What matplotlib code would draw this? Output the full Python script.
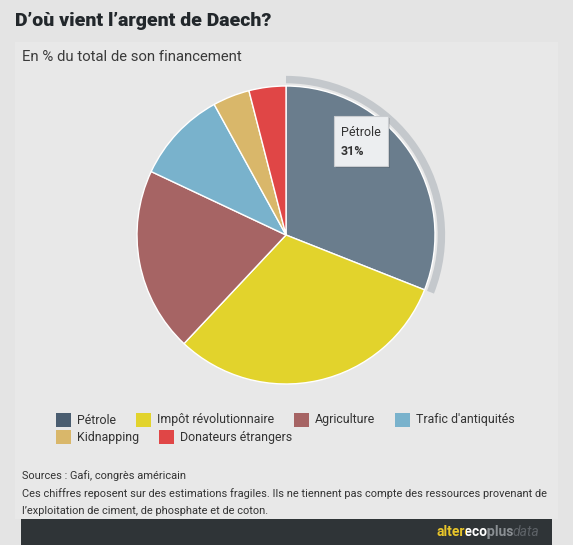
import matplotlib
matplotlib.use("Agg")
import matplotlib.pyplot as plt
from matplotlib.patches import Wedge, Rectangle, FancyBboxPatch

labels = ["Pétrole", "Impôt révolutionnaire", "Agriculture", "Trafic d'antiquités",
          "Kidnapping", "Donateurs étrangers"]
values = [31, 31, 20, 10, 4, 4]
colors = ["#6a7d8d", "#e2d32c", "#a66464", "#79b2cc", "#d9b76a", "#e04646"]
legend_colors = ["#4a5d70", "#e2d32c", "#a66464", "#79b2cc", "#d9b76a", "#e04646"]

title = "D\u2019où vient l\u2019argent de Daech?"
subtitle = "En % du total de son financement"
source_lines = [
    "Sources : Gafi, congrès américain",
    "Ces chiffres reposent sur des estimations fragiles. Ils ne tiennent pas compte des ressources provenant de",
    "l\u2019exploitation de ciment, de phosphate et de coton.",
]

W, H = 573, 545
fig = plt.figure(figsize=(W / 100, H / 100), dpi=100)
fig.patch.set_facecolor("#e4e4e4")

def fx(px):
    return px / W

def fy(py):
    return 1 - py / H

# inner panel
fig.patches.append(Rectangle((fx(15), fy(519)), fx(558) - fx(15), fy(42) - fy(519),
                             transform=fig.transFigure, facecolor="#e8e8e8", edgecolor="none", zorder=0))

# bottom bar
fig.patches.append(Rectangle((fx(21), fy(545)), fx(552) - fx(21), fy(519) - fy(545),
                             transform=fig.transFigure, facecolor="#2f3437", edgecolor="none", zorder=1))

fig.text(fx(15), fy(21), title, fontsize=14.0, fontweight="black", family="Roboto",
         color="#22272b", va="center", ha="left")
fig.text(fx(22), fy(57), subtitle, fontsize=10.7, family="Roboto", color="#3a3a3a",
         va="center", ha="left")

# pie
cx, cy, R = 286, 235, 149
half = 168
ax = fig.add_axes([fx(cx - half), fy(cy + half), 2 * half / W, 2 * half / H])
ax.set_zorder(3)
wedges, _ = ax.pie(values, colors=colors, startangle=90, counterclock=False, radius=1,
                   wedgeprops=dict(edgecolor="white", linewidth=1.0))
ax.set_xlim(-half / R, half / R)
ax.set_ylim(-half / R, half / R)
ax.set_aspect("equal")
ax.axis("off")
ax.patch.set_visible(False)
# hover halo on first slice
w0 = wedges[0]
ax.add_patch(Wedge((0, 0), 1.068, w0.theta1, w0.theta2, width=0.05,
                   facecolor="#c4c8cc", edgecolor="none", zorder=0))

# tooltip
tb = FancyBboxPatch((fx(334), fy(166)), fx(388) - fx(334), fy(116) - fy(166),
                    boxstyle="square,pad=0", transform=fig.transFigure,
                    facecolor="#eceef0", edgecolor="#c9ccd0", linewidth=0.8, zorder=5)
sh = FancyBboxPatch((fx(336), fy(168)), fx(388) - fx(334), fy(116) - fy(166),
                    boxstyle="square,pad=0", transform=fig.transFigure,
                    facecolor="#000000", alpha=0.12, edgecolor="none", zorder=4)
fig.patches.extend([sh, tb])
fig.text(fx(341), fy(133), labels[0], fontsize=9, family="Roboto", color="#333333",
         va="center", ha="left", zorder=6)
fig.text(fx(341), fy(151), f"{values[0]}%", fontsize=9, family="Roboto", fontweight="bold",
         color="#333333", va="center", ha="left", zorder=6)

# legend (flow layout)
renderer = fig.canvas.get_renderer()
x0, xmax = 56, 545
x, row_y = x0, 420
for lab, col in zip(labels, legend_colors):
    t = fig.text(0, 0, lab, fontsize=8.9, family="Roboto", color="#333333",
                 va="center", ha="left")
    tw = t.get_window_extent(renderer).width
    if x + 21 + tw > xmax:
        x = x0
        row_y += 17
    t.set_position((fx(x + 21), fy(row_y)))
    fig.patches.append(Rectangle((fx(x), fy(row_y + 7)), fx(15), 14 / H,
                                 transform=fig.transFigure, facecolor=col, edgecolor="none"))
    x += 21 + tw + 20

# sources
for i, line in enumerate(source_lines):
    fig.text(fx(22), fy(476 + i * 17.5), line, fontsize=7.9, family="Roboto", color="#333333",
             va="center", ha="left")

# logo: bold part drawn as one string, coloured by clipping
bold_parts = [("alter", "#e8c52a"), ("eco", "#ffffff"), ("plus", "#8a8f93")]
tail = ("data", "#5d6267")
logo_fs = 10
bold_full = "".join(p[0] for p in bold_parts)
probe = fig.text(0, 0, bold_full, fontsize=logo_fs, family="Roboto", fontweight="bold")
bold_w = probe.get_window_extent(renderer).width
bounds = []
acc = ""
for txt, _ in bold_parts:
    if acc:
        probe.set_text(acc)
        bounds.append(probe.get_window_extent(renderer).width + 0.6)
    else:
        bounds.append(-5)
    acc += txt
bounds.append(bold_w + 5)
probe.set_text(tail[0])
probe.set_style("italic")
probe.set_fontweight("normal")
tail_w = probe.get_window_extent(renderer).width
probe.remove()
start = 539 - bold_w + 2 - tail_w
for i, (txt, col) in enumerate(bold_parts):
    t = fig.text(fx(start), fy(532), bold_full, fontsize=logo_fs, family="Roboto",
                 fontweight="bold", color=col, va="center", ha="left", zorder=6)
    clip = Rectangle((fx(start + bounds[i]), fy(545)), (bounds[i + 1] - bounds[i]) / W, 26 / H,
                     transform=fig.transFigure, visible=False)
    fig.patches.append(clip)
    t.set_clip_path(clip)
    t.set_clip_on(True)
fig.text(fx(start + bold_w - 2), fy(532), tail[0], fontsize=logo_fs, family="Roboto",
         style="italic", color=tail[1], va="center", ha="left", zorder=6)

fig.savefig("out.png", dpi=100, facecolor=fig.get_facecolor())
